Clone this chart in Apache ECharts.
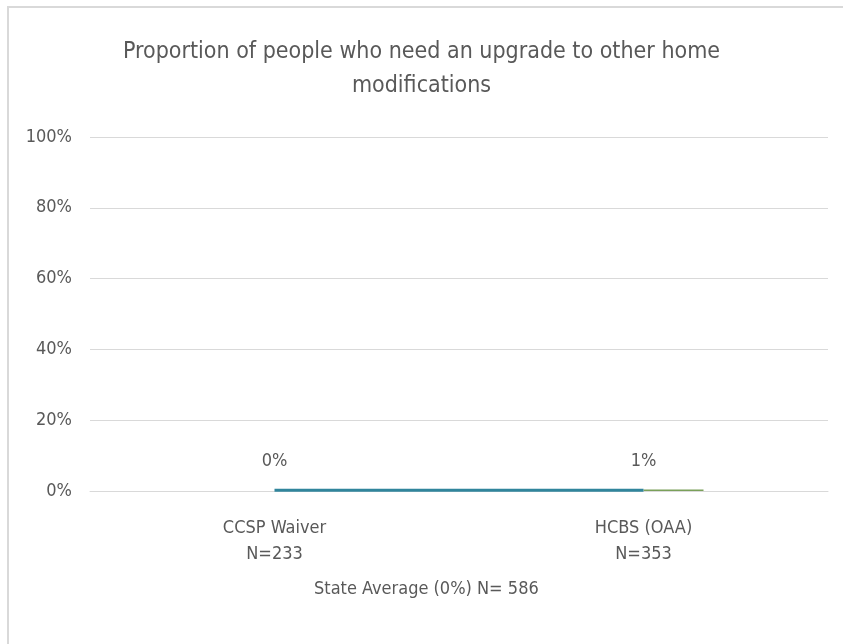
<!DOCTYPE html>
<html><head><meta charset="utf-8">
<script src="https://cdn.jsdelivr.net/npm/echarts@6/dist/echarts.min.js"></script>
<style>html,body{margin:0;padding:0;background:#fff}#c{width:843px;height:644px}</style>
</head><body><div id="c"></div>
<script>
const categories = ['CCSP Waiver\nN=233', 'HCBS (OAA)\nN=353'];
const programPct = [0, 1];          // labelled percentages
const programLine = [0.2, 0.2];     // teal marks as drawn
const secondBar = [0, 0.4];         // green mark as drawn
const yTicks = [0, 20, 40, 60, 80, 100];
const titleText = 'Proportion of people who need an upgrade to other home\nmodifications';
const footText = 'State Average (0%) N= 586';

const FONT = '"DejaVu Sans Condensed", "Open Sans", sans-serif';
const chart = echarts.init(document.getElementById('c'));
chart.setOption({
  animation: false,
  title: {
    text: titleText, left: 'center', top: 30,
    textStyle: {fontFamily: FONT, fontSize: 23, fontWeight: 'normal', color: '#595959', lineHeight: 34}
  },
  grid: {left: 90, right: 15, top: 137, bottom: 153},
  xAxis: {
    type: 'category', data: categories,
    axisLine: {lineStyle: {color: '#d9d9d9'}}, axisTick: {show: false},
    axisLabel: {fontFamily: FONT, fontSize: 18, color: '#595959', lineHeight: 26, margin: 24}
  },
  yAxis: {
    type: 'value', min: yTicks[0], max: yTicks[yTicks.length - 1], interval: 20,
    axisLine: {show: false}, axisTick: {show: false},
    splitLine: {lineStyle: {color: '#d9d9d9'}},
    axisLabel: {formatter: '{value}%', fontFamily: FONT, fontSize: 18, color: '#595959', margin: 18}
  },
  series: [
    {type: 'bar', data: [0, 0], barWidth: 60, barGap: '0%', itemStyle: {color: 'rgba(0,0,0,0)'}, silent: true},
    {type: 'bar', data: secondBar, barWidth: 60, barGap: '0%', itemStyle: {color: '#7aa05a'}},
    {type: 'line', data: programLine, symbol: 'circle', symbolSize: 0, showSymbol: true,
      lineStyle: {color: '#31859c', width: 3},
      label: {show: true, position: 'top', distance: 20,
        formatter: p => programPct[p.dataIndex] + '%',
        fontFamily: FONT, fontSize: 18, color: '#595959'}}
  ],
  graphic: [
    {type: 'rect', shape: {x: 8, y: 7, width: 900, height: 700}, style: {fill: 'none', stroke: '#d9d9d9', lineWidth: 2}, silent: true},
    {type: 'text', left: 314, top: 580, style: {text: footText, font: '18px ' + FONT, fill: '#595959'}}
  ]
});
</script></body></html>
